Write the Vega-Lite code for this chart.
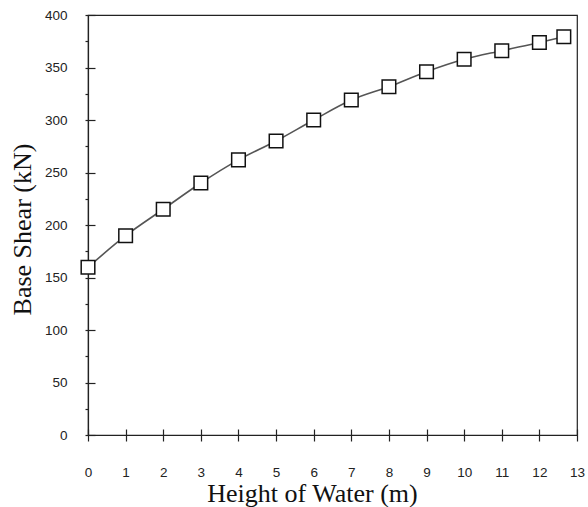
{
  "$schema": "https://vega.github.io/schema/vega-lite/v6.json",
  "width": 489,
  "height": 420,
  "autosize": {"type": "none"},
  "padding": {"left": 88, "top": 15, "right": 11, "bottom": 72},
  "background": "white",
  "config": {
    "view": {"stroke": "#222", "strokeWidth": 1.2},
    "axis": {
      "domainColor": "#222",
      "tickColor": "#222",
      "labelColor": "#222",
      "titleColor": "#111",
      "grid": false,
      "labelFont": "Liberation Sans",
      "labelFontSize": 13.5,
      "titleFont": "Liberation Serif",
      "titleFontSize": 26,
      "titleFontWeight": "normal",
      "domainWidth": 1.2,
      "tickWidth": 1.2,
      "labelOverlap": false,
      "labelFlush": false
    }
  },
  "data": {
    "values": [
      {"h": 0, "v": 159.7},
      {"h": 1, "v": 189.8},
      {"h": 2, "v": 215},
      {"h": 3, "v": 240},
      {"h": 4, "v": 262},
      {"h": 5, "v": 280},
      {"h": 6, "v": 300},
      {"h": 7, "v": 319},
      {"h": 8, "v": 331.7},
      {"h": 9, "v": 346},
      {"h": 10, "v": 357.8},
      {"h": 11, "v": 366},
      {"h": 12, "v": 373.8},
      {"h": 12.65, "v": 379.3}
    ]
  },
  "layer": [
    {
      "mark": {"type": "line", "interpolate": "monotone", "color": "#555", "strokeWidth": 1.6},
      "encoding": {
        "x": {
          "field": "h", "type": "quantitative",
          "scale": {"domain": [0, 13], "nice": false},
          "axis": {
            "orient": "bottom",
            "values": [0,1,2,3,4,5,6,7,8,9,10,11,12,13],
            "tickSize": 6,
            "labelPadding": 24,
            "title": "Height of Water (m)",
            "titleX": 224,
            "titleY": 66,
            "titleBaseline": "alphabetic"
          }
        },
        "y": {
          "field": "v", "type": "quantitative",
          "scale": {"domain": [0, 400], "nice": false},
          "axis": {
            "orient": "left",
            "values": [0,25,50,75,100,125,150,175,200,225,250,275,300,325,350,375,400],
            "tickSize": 3,
            "labelPadding": 18,
            "labelExpr": "datum.value % 50 == 0 ? datum.label : ''",
            "title": "Base Shear (kN)",
            "titleX": -66,
            "titleY": 214,
            "titleBaseline": "middle"
          }
        }
      }
    },
    {
      "mark": {"type": "point", "shape": "square", "filled": true, "fill": "white", "stroke": "#111", "strokeWidth": 1.5, "size": 185, "opacity": 1},
      "encoding": {
        "x": {
          "field": "h", "type": "quantitative",
          "scale": {"domain": [0, 13], "nice": false},
          "axis": {
            "orient": "bottom",
            "values": [0,1,2,3,4,5,6,7,8,9,10,11,12,13],
            "tickSize": -6,
            "labels": false,
            "title": null,
            "domain": false
          }
        },
        "y": {
          "field": "v", "type": "quantitative",
          "scale": {"domain": [0, 400], "nice": false},
          "axis": {
            "orient": "left",
            "values": [0,50,100,150,200,250,300,350,400],
            "tickSize": -7,
            "labels": false,
            "title": null,
            "domain": false
          }
        }
      }
    }
  ],
  "resolve": {"axis": {"x": "independent", "y": "independent"}}
}
